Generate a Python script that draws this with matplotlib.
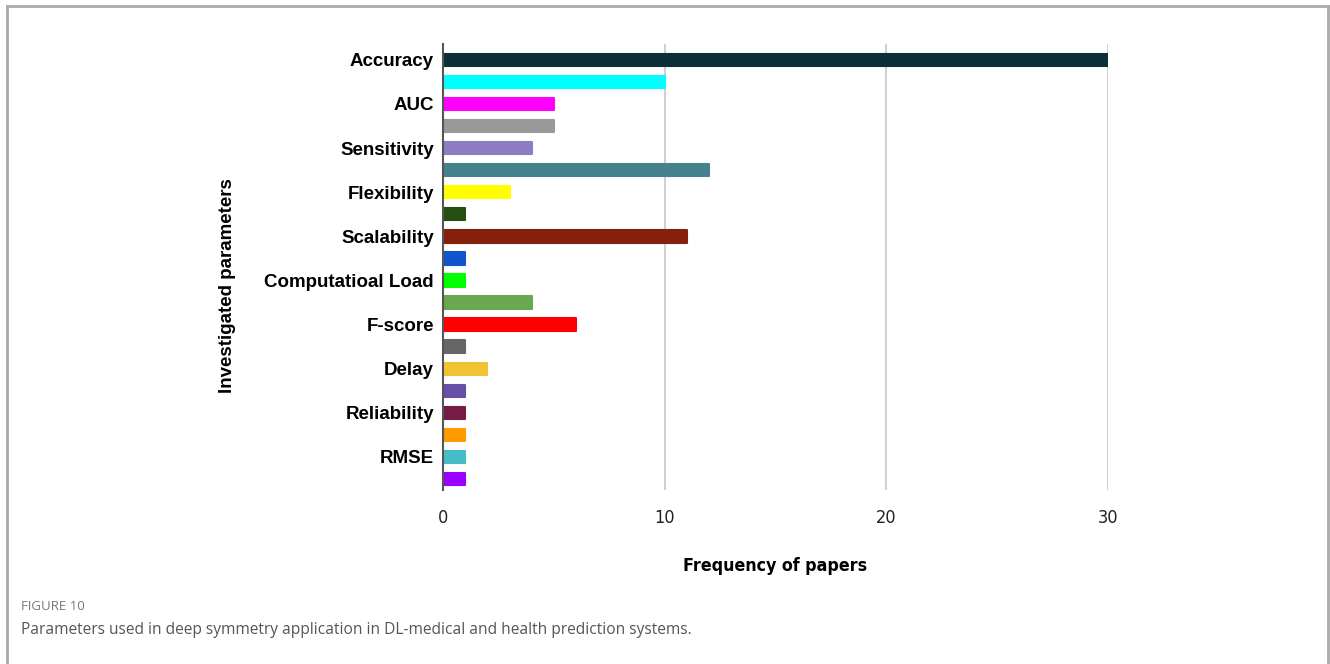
import matplotlib
matplotlib.use("Agg")
import matplotlib.pyplot as plt
import numpy as np

# --- Data ---
labelled = ["Accuracy", "AUC", "Sensitivity", "Flexibility", "Scalability",
            "Computatioal Load", "F-score", "Delay", "Reliability", "RMSE"]
counts = [30, 10, 5, 5, 4, 12, 3, 1, 11, 1, 1, 4, 6, 1, 2, 1, 1, 1, 1, 1]
colors = ["#0b3038", "#00ffff", "#ff00ff", "#999999", "#8e7cc3",
          "#45818e", "#ffff00", "#274e13", "#85200c", "#1155cc",
          "#00ff00", "#6aa84f", "#ff0000", "#666666", "#f1c232",
          "#674ea7", "#741b47", "#ff9900", "#46bdc6", "#9900ff"]
xticks = [0, 10, 20, 30]

bold_font = ["Liberation Sans", "DejaVu Sans"]
narrow_font = ["DejaVu Sans"]

fig = plt.figure(figsize=(13.3, 6.64), dpi=100)

# frame around the figure panel (top, left and right only)
fig.add_artist(plt.Line2D([0.005, 0.005], [0.0, 0.991], color="#aaaaaa", lw=2, transform=fig.transFigure))
fig.add_artist(plt.Line2D([0.9985, 0.9985], [0.0, 0.991], color="#aaaaaa", lw=2, transform=fig.transFigure))
fig.add_artist(plt.Line2D([0.005, 0.9985], [0.991, 0.991], color="#aaaaaa", lw=2, transform=fig.transFigure))

ax = fig.add_axes([0.3331, 0.262, 0.5, 0.6718])

pos = np.arange(len(counts))
ax.barh(pos, counts, height=0.56, color=colors, edgecolor=colors,
        linewidth=1.5, joinstyle="round", zorder=3)

ax.set_ylim(19.5, -0.72)
ax.set_xlim(0, 30)
ax.set_yticks(pos[::2])
ax.set_yticklabels(labelled, fontfamily=bold_font, fontweight="bold", fontsize=13.5)
ax.set_xticks(xticks)
ax.set_xticklabels([str(t) for t in xticks], fontfamily=narrow_font,
                   fontstretch="condensed", fontsize=13)
ax.tick_params(axis="both", length=0)
ax.tick_params(axis="x", pad=14, colors="#222222")
ax.tick_params(axis="y", pad=6.5)

ax.grid(axis="x", color="#cccccc", linewidth=1.3, zorder=0)
for s in ["top", "right", "bottom"]:
    ax.spines[s].set_visible(False)
ax.spines["left"].set_color("#555555")
ax.spines["left"].set_linewidth(1.5)
ax.spines["left"].set_zorder(4)

ax.set_xlabel("Frequency of papers", fontfamily=narrow_font, fontstretch="condensed",
              fontweight="bold", fontsize=12.8, labelpad=21)
fig.text(0.171, 0.57, "Investigated parameters", rotation=90, ha="center", va="center",
         fontfamily=bold_font, fontweight="bold", fontsize=13.5)

# caption
fig.text(0.0155, 0.086, "FIGURE 10", fontfamily=["Open Sans", "DejaVu Sans"],
         fontsize=9.5, color="#777777", va="center")
fig.text(0.0155, 0.051, "Parameters used in deep symmetry application in DL-medical and health prediction systems.",
         fontfamily=["Open Sans", "DejaVu Sans"], fontsize=11.2, color="#555555", va="center")

fig.savefig("out.png", dpi=100)
